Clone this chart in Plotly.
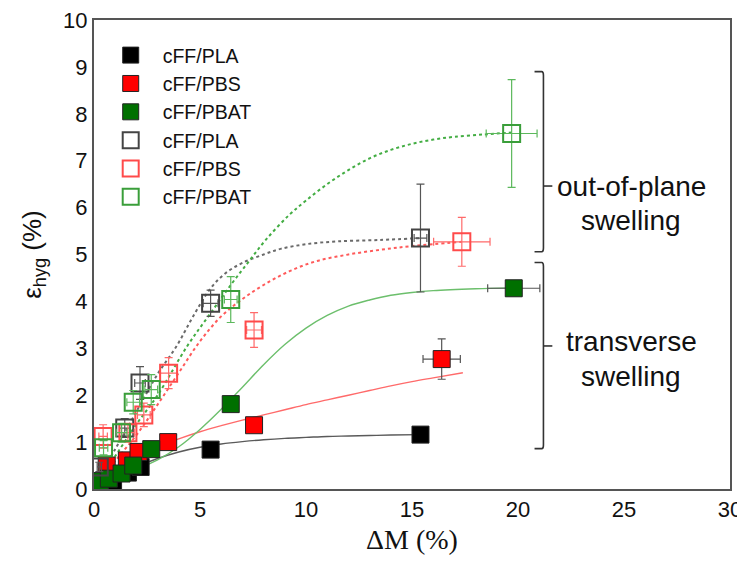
import plotly.graph_objects as go

# ---------------- data ----------------
# transverse swelling (filled markers)
pla_f_x = [0.35, 0.9, 1.6, 2.2, 5.5, 15.4]
pla_f_y = [0.12, 0.17, 0.35, 0.47, 0.84, 1.16]
pla_f_xe = [0.1, 0.1, 0.15, 0.15, 0.2, 0.2]
pla_f_ye = [0.03, 0.03, 0.05, 0.05, 0.05, 0.05]

pbs_f_x = [0.6, 1.55, 2.1, 3.5, 7.55, 16.4]
pbs_f_y = [0.5, 0.61, 0.79, 1.0, 1.36, 2.77]
pbs_f_xe = [0.15, 0.2, 0.2, 0.3, 0.3, 0.88]
pbs_f_ye = [0.08, 0.1, 0.1, 0.15, 0.15, 0.43]

pbat_f_x = [0.28, 0.7, 1.3, 1.85, 2.7, 6.45, 19.8]
pbat_f_y = [0.17, 0.22, 0.33, 0.5, 0.85, 1.81, 4.28]
pbat_f_xe = [0.1, 0.15, 0.2, 0.2, 0.25, 0.25, 1.23]
pbat_f_ye = [0.05, 0.05, 0.08, 0.08, 0.1, 0.1, 0.1]

# out-of-plane swelling (open markers)
pla_o_x = [0.25, 1.45, 2.17, 5.5, 15.4]
pla_o_y = [0.47, 1.3, 2.26, 3.96, 5.35]
pla_o_xe = [0.1, 0.25, 0.25, 0.35, 0.3]
pla_o_ye = [0.1, 0.2, 0.35, 0.28, 1.15]

pbs_o_x = [0.43, 1.6, 2.35, 3.52, 7.55, 17.35]
pbs_o_y = [1.12, 1.2, 1.58, 2.47, 3.39, 5.27]
pbs_o_xe = [0.2, 0.3, 0.3, 0.4, 0.35, 1.33]
pbs_o_ye = [0.25, 0.2, 0.25, 0.33, 0.37, 0.52]

pbat_o_x = [0.45, 1.3, 1.85, 2.7, 6.45, 19.7]
pbat_o_y = [0.88, 1.2, 1.85, 2.12, 4.04, 7.58]
pbat_o_xe = [0.2, 0.25, 0.3, 0.3, 0.3, 1.2]
pbat_o_ye = [0.15, 0.2, 0.25, 0.32, 0.49, 1.15]

# fitted curves
fit_pla_t_x = [0.3, 1, 2, 3, 4, 5, 6, 7, 8, 9, 10, 11, 12, 13, 14, 15.4]
fit_pla_t_y = [0.08, 0.25, 0.47, 0.65, 0.79, 0.89, 0.96, 1.01, 1.05, 1.08, 1.1, 1.12, 1.13, 1.14, 1.15, 1.16]
fit_pbs_t_x = [0.2, 1, 2, 3, 4, 5, 6, 7, 8, 9, 10, 11, 12, 13, 14, 15, 16, 17.4]
fit_pbs_t_y = [0.15, 0.42, 0.68, 0.9, 1.07, 1.22, 1.35, 1.47, 1.58, 1.69, 1.8, 1.9, 2.0, 2.1, 2.2, 2.29, 2.37, 2.48]
fit_pbat_t_x = [0.2, 1, 2, 3, 4, 5, 6, 7, 8, 9, 10, 11, 12, 13, 14, 15, 16, 18, 19.8]
fit_pbat_t_y = [0.1, 0.28, 0.42, 0.62, 0.9, 1.27, 1.7, 2.17, 2.65, 3.08, 3.43, 3.7, 3.9, 4.03, 4.13, 4.19, 4.23, 4.27, 4.29]

fit_pla_o_x = [0.2, 1, 2, 3, 3.9, 4.7, 5.5, 6.2, 7, 8, 8.8, 10, 11.5, 13.5, 15.4]
fit_pla_o_y = [0.25, 0.85, 1.65, 2.45, 3.05, 3.7, 4.28, 4.6, 4.82, 5.0, 5.12, 5.22, 5.28, 5.31, 5.35]
fit_pbs_o_x = [0.2, 1, 2, 3, 4, 5, 6, 7, 8, 9.2, 10.5, 12, 13.5, 15, 17.35]
fit_pbs_o_y = [0.15, 0.6, 1.15, 1.8, 2.48, 3.15, 3.68, 4.05, 4.35, 4.64, 4.86, 5.0, 5.1, 5.18, 5.27]
fit_pbat_o_x = [0.2, 1, 2, 3, 4.4, 5.5, 6.5, 7.3, 8.1, 9.2, 10, 11, 12, 13, 14, 15, 16, 17, 18.4, 19.7]
fit_pbat_o_y = [0.15, 0.7, 1.38, 2.0, 3.05, 3.75, 4.38, 4.85, 5.31, 5.84, 6.15, 6.5, 6.8, 7.05, 7.23, 7.36, 7.45, 7.51, 7.56, 7.6]

legend_names = ["cFF/PLA", "cFF/PBS", "cFF/PBAT"]
x_ticks = [0, 5, 10, 15, 20, 25, 30]
y_ticks = list(range(0, 11))

# bracket annotation geometry (data units)
br_x_hook, br_x_v, br_x_tick = 20.78, 21.2, 21.62
br_top = (8.9, 5.06, 6.46)
br_bot = (4.83, 0.86, 3.05)

FONT = "Liberation Sans, Arial, sans-serif"

fig = go.Figure()

# fit lines
def add_line(x, y, color, dash, width):
    fig.add_trace(go.Scatter(x=x, y=y, mode="lines", showlegend=False,
                             line=dict(color=color, dash=dash, width=width, shape="spline", smoothing=1),
                             hoverinfo="skip"))

add_line(fit_pla_t_x, fit_pla_t_y, "#5a5a5a", "solid", 1.4)
add_line(fit_pbs_t_x, fit_pbs_t_y, "#ff6a6a", "solid", 1.4)
add_line(fit_pbat_t_x, fit_pbat_t_y, "#6cbf6c", "solid", 1.4)
add_line(fit_pla_o_x, fit_pla_o_y, "#6a6a6a", "dot", 2)
add_line(fit_pbs_o_x, fit_pbs_o_y, "#ff5a5a", "dot", 2)
add_line(fit_pbat_o_x, fit_pbat_o_y, "#43ad43", "dot", 2)

def add_pts(x, y, xe, ye, name, symbol, fill, edge, ewidth, errcol):
    fig.add_trace(go.Scatter(
        x=x, y=y, mode="markers", name=name, legendgroup=name + symbol,
        marker=dict(symbol=symbol, size=17, color=fill, line=dict(color=edge, width=ewidth)),
        error_x=dict(type="data", array=xe, color=errcol, thickness=1.2, width=4),
        error_y=dict(type="data", array=ye, color=errcol, thickness=1.2, width=4),
    ))

add_pts(pla_f_x, pla_f_y, pla_f_xe, pla_f_ye, legend_names[0], "square", "#000000", "#222222", 1, "#555555")
add_pts(pbs_f_x, pbs_f_y, pbs_f_xe, pbs_f_ye, legend_names[1], "square", "#ff0000", "#222222", 1, "#555555")
add_pts(pbat_f_x, pbat_f_y, pbat_f_xe, pbat_f_ye, legend_names[2], "square", "#007000", "#222222", 1, "#555555")
add_pts(pla_o_x, pla_o_y, pla_o_xe, pla_o_ye, legend_names[0], "square-open", "#444444", "#444444", 2, "#555555")
add_pts(pbs_o_x, pbs_o_y, pbs_o_xe, pbs_o_ye, legend_names[1], "square-open", "#ff4a4a", "#ff4a4a", 2, "#ff6a6a")
add_pts(pbat_o_x, pbat_o_y, pbat_o_xe, pbat_o_ye, legend_names[2], "square-open", "#3a9e3a", "#3a9e3a", 2, "#5cb85c")

# brackets
shapes = []
for (yt, yb, ym) in (br_top, br_bot):
    path = (f"M {br_x_hook},{yt} L {br_x_v - 0.08},{yt} Q {br_x_v},{yt} {br_x_v},{yt - 0.08} "
            f"L {br_x_v},{yb + 0.08} Q {br_x_v},{yb} {br_x_v - 0.08},{yb} L {br_x_hook},{yb}")
    shapes.append(dict(type="path", path=path, xref="x", yref="y",
                       line=dict(color="#333333", width=1.6)))
    shapes.append(dict(type="line", xref="x", yref="y", x0=br_x_v, x1=br_x_tick, y0=ym, y1=ym,
                       line=dict(color="#333333", width=1.6)))

annotations = []
for txt, yv in (("out-of-plane", 6.46), ("swelling", 5.72), ("transverse", 3.14), ("swelling", 2.39)):
    annotations.append(dict(x=25.35, y=yv, xref="x", yref="y", text=txt, showarrow=False,
                            font=dict(family=FONT, size=28, color="#111111"),
                            xanchor="center", yanchor="middle"))

# the page body adds an 8 px offset; margins compensate for it
fig.update_layout(
    width=745, height=561,
    margin=dict(l=86, r=23, t=12, b=80, autoexpand=False),
    paper_bgcolor="white", plot_bgcolor="white",
    font=dict(family=FONT, color="#111111"),
    shapes=shapes, annotations=annotations,
    legend=dict(x=0.0074, y=0.966, xanchor="left", yanchor="top",
                font=dict(family=FONT, size=19.5, color="#111111"),
                bgcolor="rgba(0,0,0,0)", itemwidth=54, tracegroupgap=0),
    xaxis=dict(range=[0, 30], tickvals=x_ticks, showgrid=False, zeroline=False, automargin=False,
               showline=True, mirror=True, linecolor="#555555", linewidth=2, ticks="",
               ticklabeloverflow="allow",
               tickfont=dict(family=FONT, size=22, color="#111111"),
               title=dict(text="ΔM (%)", standoff=8,
                          font=dict(family="Liberation Serif, Times New Roman, serif", size=28, color="#111111"))),
    yaxis=dict(range=[0, 10], tickvals=y_ticks, showgrid=False, zeroline=False, automargin=False,
               showline=True, mirror=True, linecolor="#555555", linewidth=2, ticks="",
               ticklabeloverflow="allow",
               tickfont=dict(family=FONT, size=22, color="#111111"),
               title=dict(text="ε<sub>hyg</sub> (%)", standoff=14,
                          font=dict(family=FONT, size=26, color="#111111"))),
)

fig.write_html("out.html")
